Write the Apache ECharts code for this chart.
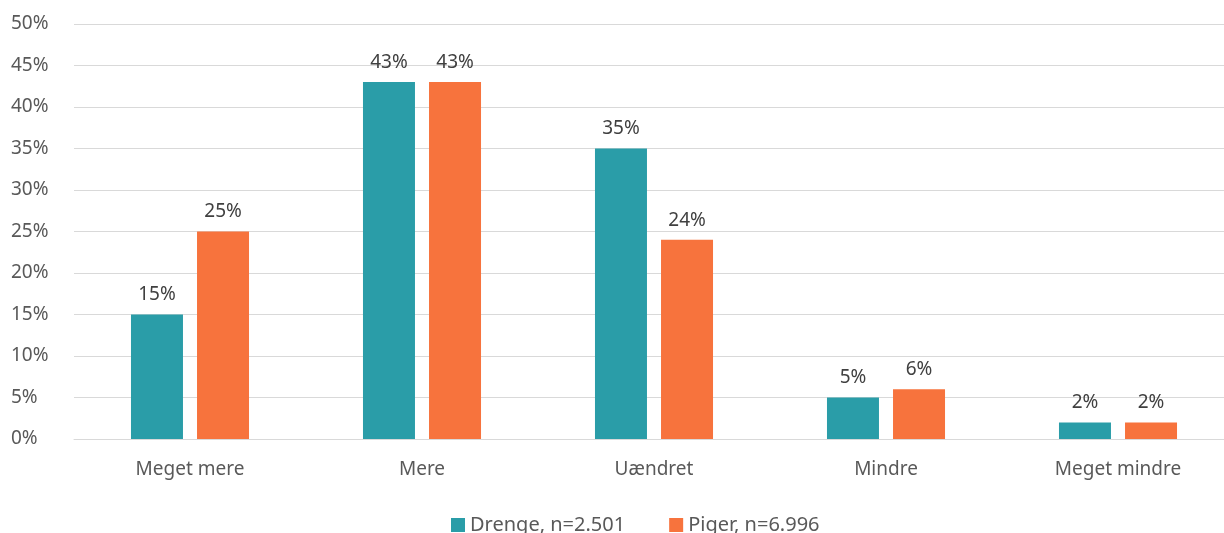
<!DOCTYPE html>
<html>
<head>
<meta charset="utf-8">
<script src="https://cdn.jsdelivr.net/npm/echarts@6/dist/echarts.min.js"></script>
<style>
  html, body { margin: 0; padding: 0; background: #fff; overflow: hidden; }
  #chart { width: 1236px; height: 533px; }
</style>
</head>
<body>
<div id="chart"></div>
<script>
// 类别与数据
const categories = ['Meget mere', 'Mere', 'Uændret', 'Mindre', 'Meget mindre'];
const drenge = [15, 43, 35, 5, 2];
const piger = [25, 43, 24, 6, 2];
const seriesNames = ['Drenge, n=2.501', 'Piger, n=6.996'];

const textColor = '#595959';
const font = 'Noto Sans';

const chart = echarts.init(document.getElementById('chart'));

const labelOpt = {
  show: true,
  position: 'top',
  distance: 10,
  formatter: p => p.value + '%',
  color: '#404040',
  fontSize: 19,
  fontFamily: font
};

chart.setOption({
  animation: false,
  backgroundColor: '#fff',
  grid: { left: 74, right: 2, top: 24, bottom: 94 },
  legend: {
    data: seriesNames,
    top: 510,
    left: 446,
    itemWidth: 14,
    itemHeight: 14,
    itemGap: 44,
    icon: 'rect',
    textStyle: { color: textColor, fontSize: 20, fontFamily: font }
  },
  xAxis: {
    type: 'category',
    data: categories,
    axisLine: { lineStyle: { color: '#d9d9d9', width: 1 } },
    axisTick: { show: false },
    axisLabel: { color: textColor, fontSize: 19, fontFamily: font, margin: 21 }
  },
  yAxis: {
    type: 'value',
    min: 0,
    max: 50,
    interval: 5,
    axisLabel: {
      formatter: '{value}%',
      color: textColor,
      fontSize: 19,
      fontFamily: font,
      align: 'left',
      margin: 63
    },
    axisLine: { show: false },
    axisTick: { show: false },
    splitLine: { lineStyle: { color: '#d9d9d9', width: 1 } }
  },
  series: [
    {
      name: seriesNames[0],
      type: 'bar',
      data: drenge,
      barWidth: 52,
      barGap: '27%',
      itemStyle: { color: '#2a9da8' },
      label: labelOpt
    },
    {
      name: seriesNames[1],
      type: 'bar',
      data: piger,
      barWidth: 52,
      itemStyle: { color: '#f7733d' },
      label: labelOpt
    }
  ]
});
</script>
</body>
</html>
